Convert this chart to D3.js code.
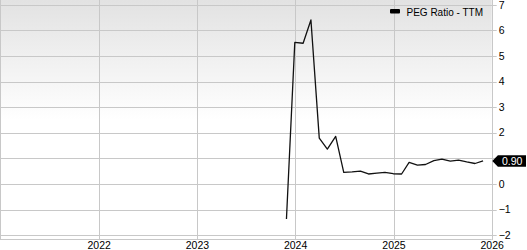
<!DOCTYPE html>
<html><head><meta charset="utf-8">
<script src="https://cdn.jsdelivr.net/npm/d3@7"></script>
<style>
html,body{margin:0;padding:0;background:#fff;}
svg{display:block;font-family:"Liberation Sans",Arial,Helvetica,sans-serif;}
</style></head>
<body><svg id="chart" width="527" height="250"></svg>
<script>
const dates = ["2023-11-30","2023-12-31","2024-01-31","2024-02-29","2024-03-31","2024-04-30","2024-05-31","2024-06-30","2024-07-31","2024-08-31","2024-09-30","2024-10-31","2024-11-30","2024-12-31","2025-01-31","2025-02-28","2025-03-31","2025-04-30","2025-05-31","2025-06-30","2025-07-31","2025-08-31","2025-09-30","2025-10-31","2025-11-30"];
const pegValues = [-1.37,5.53,5.50,6.41,1.79,1.36,1.86,0.45,0.47,0.50,0.39,0.42,0.45,0.40,0.39,0.84,0.74,0.76,0.91,0.97,0.89,0.93,0.86,0.80,0.90];
const yTicks = [-2,-1,0,1,2,3,4,5,6,7];
const xTickYears = [2022,2023,2024,2025,2026];
const seriesName = "PEG Ratio - TTM";
const lastLabel = "0.90";

(function(){
const svg = d3.select("#chart");
const pL = 0.5, pR = 491.7, pT = 0, pB = 240;
const parse = d3.utcParse("%Y-%m-%d");
const data = dates.map((d,i)=>({date:parse(d), v:pegValues[i]}));

const x = d3.scaleUtc().domain([new Date(Date.UTC(2021,0,1)), new Date(Date.UTC(2026,0,1))]).range([pL, pR]);
const y = d3.scaleLinear().domain([-2.19, 7.19]).range([pB, pT]);
const ly = y(pegValues[pegValues.length-1]);

const defs = svg.append("defs");
const grad = defs.append("linearGradient").attr("id","bg").attr("x1",0).attr("y1",0).attr("x2",0).attr("y2",1);
grad.append("stop").attr("offset","0%").attr("stop-color","#e2e2e2");
grad.append("stop").attr("offset","50%").attr("stop-color","#ffffff");
grad.append("stop").attr("offset","100%").attr("stop-color","#ffffff");

svg.append("rect").attr("x",pL).attr("y",pT).attr("width",pR-pL).attr("height",pB-pT).attr("fill","url(#bg)");

svg.append("g").selectAll("line").data(yTicks).join("line")
  .attr("x1",pL).attr("x2",pR+5)
  .attr("y1",d=>Math.round(y(d))+0.5).attr("y2",d=>Math.round(y(d))+0.5)
  .attr("stroke","#c8c8c8").attr("stroke-width",1);
const xTicks = xTickYears.map(yr=>new Date(Date.UTC(yr,0,1)));
svg.append("g").selectAll("line").data(xTicks).join("line")
  .attr("x1",d=>Math.round(x(d))+0.5).attr("x2",d=>Math.round(x(d))+0.5)
  .attr("y1",pT).attr("y2",pB)
  .attr("stroke","#c8c8c8").attr("stroke-width",1);
svg.append("line").attr("x1",0.5).attr("x2",0.5).attr("y1",pT).attr("y2",pB).attr("stroke","#c8c8c8");
svg.append("line").attr("x1",0).attr("x2",pR).attr("y1",pB-0.5).attr("y2",pB-0.5).attr("stroke","#c8c8c8");

// right-side labels; the one hidden under the last-value badge is not drawn
const shownTicks = yTicks.filter(t => Math.abs(y(t) - ly) > 8);
const yAxis = d3.axisRight(y).tickValues(shownTicks).tickSize(0).tickPadding(0).tickFormat(d3.format("d"));
const ya = svg.append("g").attr("transform",`translate(${pR+7},0)`).call(yAxis);
ya.select(".domain").remove();
ya.selectAll("text").attr("font-size","10.5px").attr("fill","#000").attr("dy","0.3em").attr("font-family","'Liberation Sans',Arial,sans-serif");

const xAxis = d3.axisBottom(x).tickValues(xTicks).tickSize(0).tickPadding(0).tickFormat(d3.utcFormat("%Y"));
const xa = svg.append("g").attr("transform",`translate(0,${pB})`).call(xAxis);
xa.select(".domain").remove();
xa.selectAll("text").attr("font-size","10.5px").attr("fill","#000").attr("dy","0").attr("y",9.3).attr("font-family","'Liberation Sans',Arial,sans-serif");

const line = d3.line().x(d=>x(d.date)).y(d=>y(d.v));
svg.append("path").datum(data).attr("d",line).attr("fill","none").attr("stroke","#111").attr("stroke-width",1.3).attr("stroke-linejoin","round");

const tip = pR + 0.6;
svg.append("path")
  .attr("d",`M${tip},${ly} L${tip+5.6},${ly-5.8} L526,${ly-5.8} L526,${ly+5.8} L${tip+5.6},${ly+5.8} Z`)
  .attr("fill","#000");
svg.append("text").attr("x",502).attr("y",ly).attr("dy","0.36em").attr("fill","#fff").attr("font-size","10.5px").text(lastLabel);

svg.append("rect").attr("x",390).attr("y",9).attr("width",10).attr("height",4.5).attr("rx",1).attr("fill","#000");
svg.append("text").attr("x",406.5).attr("y",15.6).attr("font-size","10px").attr("fill","#000").text(seriesName);
})();
</script></body></html>
